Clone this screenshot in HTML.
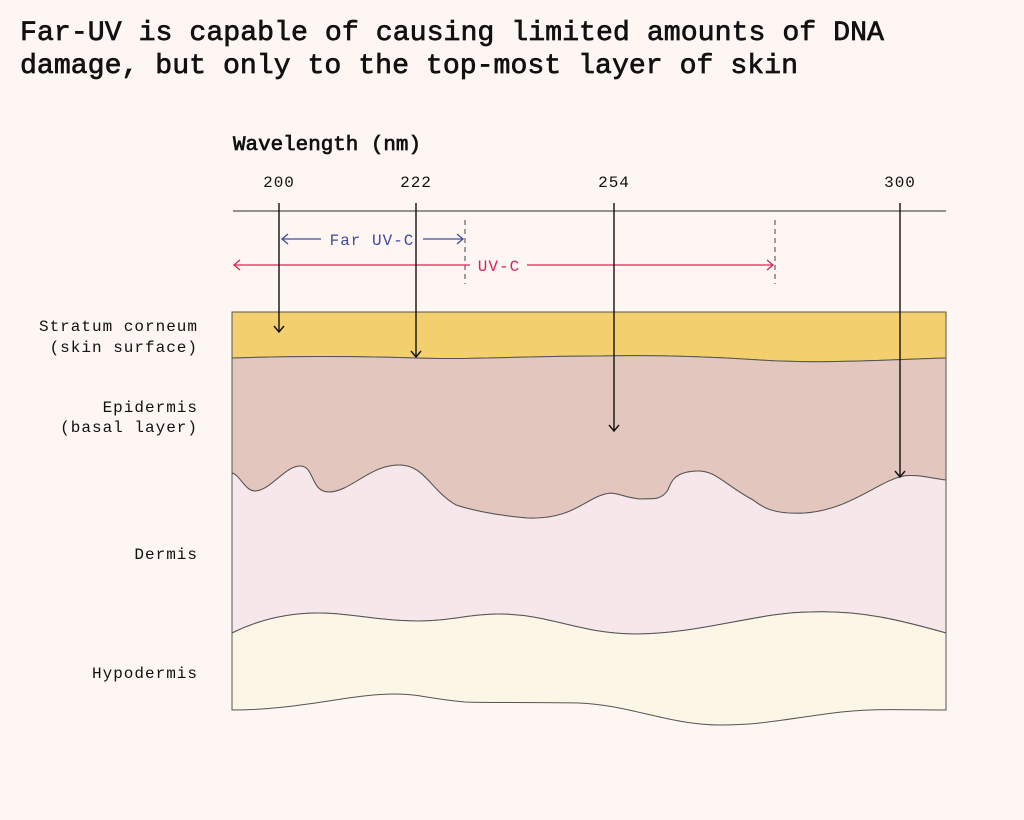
<!DOCTYPE html>
<html><head><meta charset="utf-8"><style>
html,body{margin:0;padding:0;background:#fdf6f3;}
svg{display:block;}
text{font-family:"Liberation Mono",monospace;fill:#111;}
</style></head><body>
<svg width="1024" height="820" viewBox="0 0 1024 820" xmlns="http://www.w3.org/2000/svg">
<rect width="1024" height="820" fill="#fdf6f3"/>
<g style="stroke:#111;stroke-width:0.7">
<text x="20" y="40" font-size="28" textLength="864" lengthAdjust="spacingAndGlyphs">Far-UV is capable of causing limited amounts of DNA</text>
<text x="20" y="73" font-size="28" textLength="778" lengthAdjust="spacingAndGlyphs">damage, but only to the top-most layer of skin</text>
<text x="233" y="150" font-size="20" textLength="188" lengthAdjust="spacingAndGlyphs">Wavelength (nm)</text>
</g>
<g font-size="16" text-anchor="middle" letter-spacing="1">
<text x="279" y="187">200</text><text x="416" y="187">222</text><text x="614" y="187">254</text><text x="900" y="187">300</text>
</g>
<g font-size="16" text-anchor="end" letter-spacing="1">
<text x="198" y="331">Stratum corneum</text><text x="198" y="352">(skin surface)</text>
<text x="198" y="412">Epidermis</text><text x="198" y="432">(basal layer)</text>
<text x="198" y="559">Dermis</text><text x="198" y="678">Hypodermis</text>
</g>
<line x1="233" y1="211" x2="946" y2="211" stroke="#555" stroke-width="1.3"/>
<path d="M232,312 H946 V358 C880,360 820,364 760,360 C700,356 650,355 600,356 C520,356 470,360 416,358 C350,356 290,356 232,358 Z" fill="#f3d06d" stroke="#555" stroke-width="1"/>
<path d="M232,358 C290,356 350,356 416,358 C470,360 520,356 600,356 C650,355 700,356 760,360 C820,364 880,360 946,358 V480 C930,478 915,474 904,476 C880,480 850,510 805,513 C770,515 760,505 753,500 C725,485 715,470 697,471 C675,472 672,480 668,490 C660,502 650,498 640,499 C620,497 615,490 602,495 C585,500 570,520 527,518 C490,515 465,508 456,505 C430,490 425,465 399,465 C370,465 350,492 329,492 C310,492 315,466 300,466 C285,466 270,491 255,491 C245,491 240,475 232,473 Z" fill="#e3c6bd" stroke="#555" stroke-width="1"/>
<path d="M232,473 C240,475 245,491 255,491 C270,491 285,466 300,466 C315,466 310,492 329,492 C350,492 370,465 399,465 C425,465 430,490 456,505 C465,508 490,515 527,518 C570,520 585,500 602,495 C615,490 620,497 640,499 C650,498 660,502 668,490 C672,480 675,472 697,471 C715,470 725,485 753,500 C760,505 770,515 805,513 C850,510 880,480 904,476 C915,474 930,478 946,480 V633 C900,620 860,610 810,612 C760,612 700,634 635,634 C580,634 550,614 498,614 C470,614 450,621 418,621 C380,621 350,613 319,613 C280,613 250,624 232,633 Z" fill="#f5e7ea" stroke="#555" stroke-width="1"/>
<path d="M232,633 C250,624 280,613 319,613 C350,613 380,621 418,621 C450,621 470,614 498,614 C550,614 580,634 635,634 C700,634 760,612 810,612 C860,610 900,620 946,633 V710 C900,710 870,708 833,713 C780,720 760,725 720,725 C670,725 630,705 579,703 C530,702 490,703 465,702 C430,699 420,694 395,694 C350,694 300,710 232,710 Z" fill="#fcf6e6" stroke="#555" stroke-width="1"/>
<line x1="465" y1="220" x2="465" y2="284" stroke="#444" stroke-width="1" stroke-dasharray="5,4"/>
<line x1="775" y1="220" x2="775" y2="284" stroke="#444" stroke-width="1" stroke-dasharray="5,4"/>
<g stroke="#3f4a9e" stroke-width="1.3" fill="none">
<line x1="282" y1="239" x2="321" y2="239"/><line x1="423" y1="239" x2="463" y2="239"/>
<polyline points="288,234 282,239 288,244"/><polyline points="457,234 463,239 457,244"/>
</g>
<text x="372" y="245" font-size="16" letter-spacing="1" text-anchor="middle" style="fill:#3f4a9e">Far UV-C</text>
<g stroke="#e0234e" stroke-width="1.3" fill="none">
<line x1="234" y1="265" x2="470" y2="265"/><line x1="527" y1="265" x2="773" y2="265"/>
<polyline points="240,260 234,265 240,270"/><polyline points="767,260 773,265 767,270"/>
</g>
<text x="499" y="271" font-size="16" letter-spacing="1" text-anchor="middle" style="fill:#e0234e">UV-C</text>
<g stroke="#111" stroke-width="1.4" fill="none">
<line x1="279" y1="203" x2="279" y2="332"/><polyline points="274,326 279,332 284,326"/>
<line x1="416" y1="203" x2="416" y2="357"/><polyline points="411,351 416,357 421,351"/>
<line x1="614" y1="203" x2="614" y2="431"/><polyline points="609,425 614,431 619,425"/>
<line x1="900" y1="203" x2="900" y2="477"/><polyline points="895,471 900,477 905,471"/>
</g>
</svg>
</body></html>
